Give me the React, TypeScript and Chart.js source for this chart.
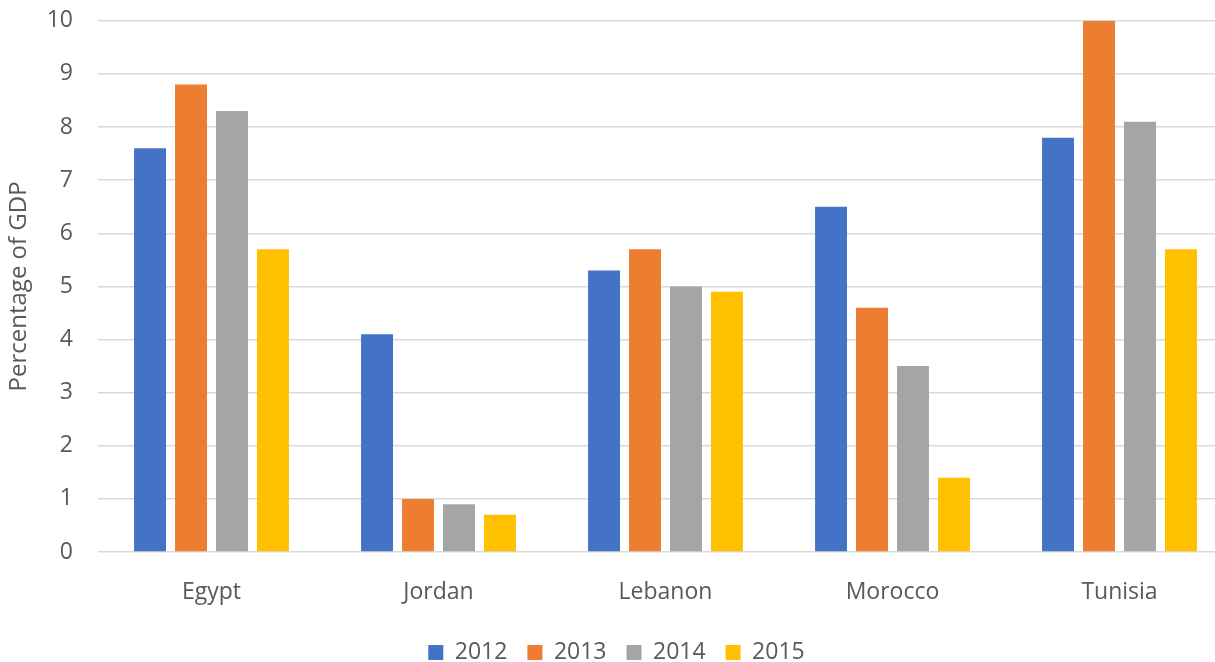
import React, { useEffect, useRef } from "react";
import { Chart, registerables } from "chart.js";

Chart.register(...registerables);

const categories = ["Egypt", "Jordan", "Lebanon", "Morocco", "Tunisia"];
const seriesNames = ["2012", "2013", "2014", "2015"];
const values2012 = [7.6, 4.1, 5.3, 6.5, 7.8];
const values2013 = [8.8, 1.0, 5.7, 4.6, 10.0];
const values2014 = [8.3, 0.9, 5.0, 3.5, 8.1];
const values2015 = [5.7, 0.7, 4.9, 1.4, 5.7];
const seriesColors = ["#4472C4", "#ED7D31", "#A5A5A5", "#FFC000"];
const yTitle = "Percentage of GDP";

const FONT = "'Open Sans', 'Noto Sans', sans-serif";
const TEXT = "#595959";

export default function App() {
  const ref = useRef<HTMLCanvasElement | null>(null);

  useEffect(() => {
    document.body.style.margin = "0";
    const canvas = ref.current;
    if (!canvas) return;
    const all = [values2012, values2013, values2014, values2015];
    const chart = new Chart(canvas, {
      type: "bar",
      data: {
        labels: categories,
        datasets: seriesNames.map((name, i) => ({
          label: name,
          data: all[i],
          backgroundColor: seriesColors[i],
          borderWidth: 0,
          categoryPercentage: 0.722,
          barPercentage: 0.78,
        })),
      },
      options: {
        responsive: false,
        animation: false,
        layout: { padding: { top: 2, right: 7, bottom: 0, left: 0 } },
        plugins: {
          legend: {
            position: "bottom",
            labels: {
              boxWidth: 15,
              boxHeight: 15,
              padding: 20,
              color: TEXT,
              font: { family: FONT, size: 23 },
            },
          },
          tooltip: { enabled: false },
        },
        scales: {
          x: {
            grid: { display: false, drawTicks: false },
            border: { display: false },
            ticks: {
              color: TEXT,
              padding: 27,
              font: { family: FONT, size: 23 },
            },
            afterFit: (scale: any) => {
              scale.height = 69;
            },
          },
          y: {
            min: 0,
            max: 10,
            ticks: {
              stepSize: 1,
              color: TEXT,
              padding: 25,
              font: { family: FONT, size: 23 },
            },
            grid: { color: "#D9D9D9", lineWidth: 1.5, drawTicks: false },
            border: { display: false },
            title: {
              display: true,
              text: yTitle,
              color: TEXT,
              padding: { top: 5, bottom: 0 },
              font: { family: FONT, size: 24 },
            },
            afterFit: (scale: any) => {
              scale.width = 98;
            },
          },
        },
      },
    });
    return () => chart.destroy();
  }, []);

  return (
    <div
      style={{
        position: "absolute",
        left: 0,
        top: 0,
        width: 1215,
        height: 662,
        overflow: "hidden",
        background: "#fff",
      }}
    >
      <canvas
        ref={ref}
        width={1240}
        height={692}
        style={{ display: "block", marginTop: -18 }}
      />
    </div>
  );
}
